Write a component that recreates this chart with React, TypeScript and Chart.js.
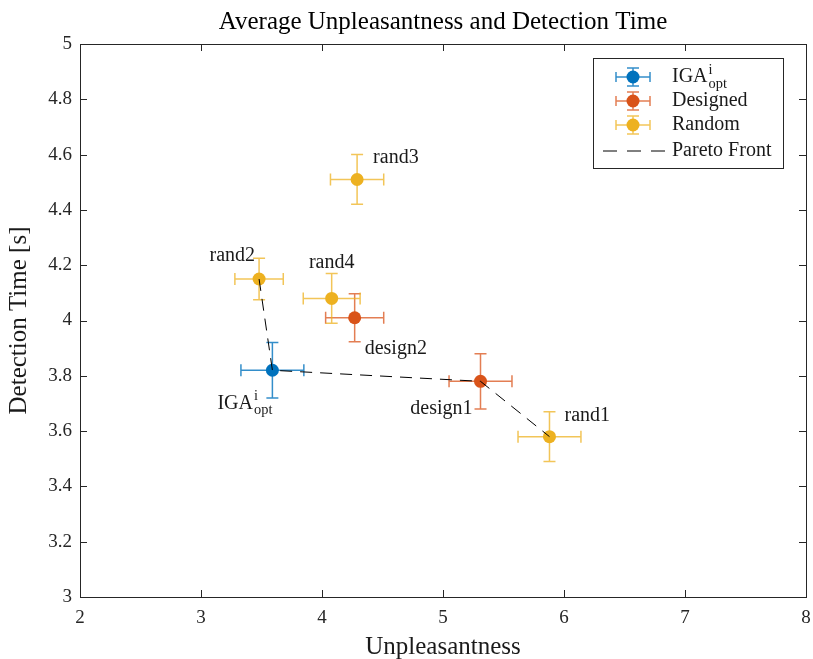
import React, { useEffect, useRef } from "react";
import { Chart, registerables } from "chart.js";

Chart.register(...registerables);

// ---- data ----
const seriesNames = ["IGA", "Designed", "Random"];

const igaLabels = ["IGA"];
const igaX = [3.59];
const igaY = [3.82];
const igaXErr = [0.26];
const igaYErr = [0.10];

const designLabels = ["design1", "design2"];
const designX = [5.31, 4.27];
const designY = [3.78, 4.01];
const designXErr = [0.26, 0.24];
const designYErr = [0.10, 0.087];

const randLabels = ["rand1", "rand2", "rand3", "rand4"];
const randX = [5.88, 3.48, 4.29, 4.08];
const randY = [3.58, 4.15, 4.51, 4.08];
const randXErr = [0.26, 0.2, 0.22, 0.235];
const randYErr = [0.09, 0.075, 0.09, 0.09];

const paretoX = [3.48, 3.59, 5.31, 5.88];
const paretoY = [4.15, 3.82, 3.78, 3.58];

const xTicks = [2, 3, 4, 5, 6, 7, 8];
const yTicks = [3, 3.2, 3.4, 3.6, 3.8, 4, 4.2, 4.4, 4.6, 4.8, 5];

const titleText = "Average Unpleasantness and Detection Time";
const xTitle = "Unpleasantness";
const yTitle = "Detection Time [s]";

// ---- styles ----
const FONT = "'Liberation Serif', 'DejaVu Serif', serif";
const AXIS_COLOR = "#262626";
const TEXT_COLOR = "#1a1a1a";
const BLUE = "#0072BD";
const ORANGE = "#D95319";
const YELLOW = "#EDB120";
const BLUE_E = "rgba(0,114,189,0.8)";
const ORANGE_E = "rgba(217,83,25,0.75)";
const YELLOW_E = "rgba(237,177,32,0.75)";
const DASH = [12, 8];
const LABEL_SIZE = 20;

const toPts = (xs: number[], ys: number[]) => xs.map((x, i) => ({ x, y: ys[i] }));

// label placement: [dx, dy, align] in pixels relative to marker
const labelPlacement: Record<string, [number, number, CanvasTextAlign]> = {
  rand1: [15, -21, "left"],
  rand2: [-4, -23, "right"],
  rand3: [16, -22, "left"],
  rand4: [0, -36, "center"],
  design1: [-8, 27, "right"],
  design2: [10, 31, "left"],
  IGA: [0, 33, "right"],
};

const errGroups = [
  { xs: igaX, ys: igaY, ex: igaXErr, ey: igaYErr, color: BLUE_E },
  { xs: designX, ys: designY, ex: designXErr, ey: designYErr, color: ORANGE_E },
  { xs: randX, ys: randY, ex: randXErr, ey: randYErr, color: YELLOW_E },
];

function drawIGA(ctx: CanvasRenderingContext2D, x: number, y: number, align: CanvasTextAlign, size: number) {
  // IGA^i_opt
  ctx.save();
  ctx.font = `${size}px ${FONT}`;
  const mainW = ctx.measureText("IGA").width;
  ctx.font = `${size * 0.72}px ${FONT}`;
  const supW = ctx.measureText("i").width;
  const subW = ctx.measureText("opt").width;
  const total = mainW + Math.max(supW, subW) + 1;
  let x0 = x;
  if (align === "right") x0 = x - total;
  else if (align === "center") x0 = x - total / 2;
  ctx.textAlign = "left";
  ctx.textBaseline = "middle";
  ctx.font = `${size}px ${FONT}`;
  ctx.fillText("IGA", x0, y);
  ctx.font = `${size * 0.72}px ${FONT}`;
  ctx.fillText("i", x0 + mainW + 1, y - size * 0.36);
  ctx.fillText("opt", x0 + mainW + 1, y + size * 0.36);
  ctx.restore();
}

const customPlugin = {
  id: "matlabLike",
  beforeDatasetsDraw(chart: any) {
    const { ctx, scales } = chart;
    const xs = scales.x;
    const ys = scales.y;
    ctx.save();
    ctx.lineWidth = 1.5;
    const cap = 6;
    errGroups.forEach((g) => {
      ctx.strokeStyle = g.color;
      g.xs.forEach((xv, i) => {
        const yv = g.ys[i];
        const px = xs.getPixelForValue(xv);
        const py = ys.getPixelForValue(yv);
        const pxl = xs.getPixelForValue(xv - g.ex[i]);
        const pxr = xs.getPixelForValue(xv + g.ex[i]);
        const pyt = ys.getPixelForValue(yv + g.ey[i]);
        const pyb = ys.getPixelForValue(yv - g.ey[i]);
        ctx.beginPath();
        ctx.moveTo(pxl, py);
        ctx.lineTo(pxr, py);
        ctx.moveTo(pxl, py - cap);
        ctx.lineTo(pxl, py + cap);
        ctx.moveTo(pxr, py - cap);
        ctx.lineTo(pxr, py + cap);
        ctx.moveTo(px, pyt);
        ctx.lineTo(px, pyb);
        ctx.moveTo(px - cap, pyt);
        ctx.lineTo(px + cap, pyt);
        ctx.moveTo(px - cap, pyb);
        ctx.lineTo(px + cap, pyb);
        ctx.stroke();
      });
    });
    ctx.restore();
  },
  afterDraw(chart: any) {
    const { ctx, scales, chartArea } = chart;
    const xs = scales.x;
    const ys = scales.y;
    const { left, right, top, bottom } = chartArea;
    ctx.save();
    // box
    ctx.strokeStyle = AXIS_COLOR;
    ctx.lineWidth = 1;
    ctx.strokeRect(Math.round(left) + 0.5, Math.round(top) + 0.5, Math.round(right - left), Math.round(bottom - top));
    // inward ticks
    const tl = 7;
    ctx.beginPath();
    xTicks.forEach((t) => {
      const px = Math.round(xs.getPixelForValue(t)) + 0.5;
      ctx.moveTo(px, bottom);
      ctx.lineTo(px, bottom - tl);
      ctx.moveTo(px, top);
      ctx.lineTo(px, top + tl);
    });
    yTicks.forEach((t) => {
      const py = Math.round(ys.getPixelForValue(t)) + 0.5;
      ctx.moveTo(left, py);
      ctx.lineTo(left + tl, py);
      ctx.moveTo(right, py);
      ctx.lineTo(right - tl, py);
    });
    ctx.stroke();

    // titles
    ctx.fillStyle = "#000";
    ctx.textAlign = "center";
    ctx.textBaseline = "middle";
    ctx.font = `25px ${FONT}`;
    ctx.fillText(titleText, (left + right) / 2, 22);
    ctx.fillStyle = TEXT_COLOR;
    ctx.font = `25px ${FONT}`;
    ctx.fillText(xTitle, (left + right) / 2, 647);
    ctx.save();
    ctx.translate(19, (top + bottom) / 2);
    ctx.rotate(-Math.PI / 2);
    ctx.fillText(yTitle, 0, 0);
    ctx.restore();

    // point labels
    ctx.fillStyle = TEXT_COLOR;
    const labelSets = [
      { names: igaLabels, xsv: igaX, ysv: igaY },
      { names: designLabels, xsv: designX, ysv: designY },
      { names: randLabels, xsv: randX, ysv: randY },
    ];
    labelSets.forEach((s) => {
      s.names.forEach((name, i) => {
        const px = xs.getPixelForValue(s.xsv[i]);
        const py = ys.getPixelForValue(s.ysv[i]);
        const [dx, dy, align] = labelPlacement[name];
        if (name === "IGA") {
          drawIGA(ctx, px + dx, py + dy, align, LABEL_SIZE);
        } else {
          ctx.font = `${LABEL_SIZE}px ${FONT}`;
          ctx.textAlign = align;
          ctx.textBaseline = "middle";
          ctx.fillText(name, px + dx, py + dy);
        }
      });
    });

    // legend
    const lx = right - 213;
    const ly = top + 14;
    const lw = 190;
    const lh = 110;
    ctx.fillStyle = "#ffffff";
    ctx.fillRect(lx, ly, lw, lh);
    ctx.strokeStyle = AXIS_COLOR;
    ctx.lineWidth = 1;
    ctx.strokeRect(Math.round(lx) + 0.5, Math.round(ly) + 0.5, lw, lh);
    const rows = [
      { name: seriesNames[0], color: BLUE, ecolor: BLUE_E },
      { name: seriesNames[1], color: ORANGE, ecolor: ORANGE_E },
      { name: seriesNames[2], color: YELLOW, ecolor: YELLOW_E },
    ];
    const symX = lx + 40;
    const textX = lx + 79;
    rows.forEach((r, i) => {
      const cy = ly + 19 + i * 24;
      ctx.strokeStyle = r.ecolor;
      ctx.lineWidth = 1.5;
      ctx.beginPath();
      ctx.moveTo(symX - 17, cy);
      ctx.lineTo(symX + 17, cy);
      ctx.moveTo(symX - 17, cy - 5);
      ctx.lineTo(symX - 17, cy + 5);
      ctx.moveTo(symX + 17, cy - 5);
      ctx.lineTo(symX + 17, cy + 5);
      ctx.moveTo(symX, cy - 9);
      ctx.lineTo(symX, cy + 9);
      ctx.moveTo(symX - 6, cy - 9);
      ctx.lineTo(symX + 6, cy - 9);
      ctx.moveTo(symX - 6, cy + 9);
      ctx.lineTo(symX + 6, cy + 9);
      ctx.stroke();
      ctx.fillStyle = r.color;
      ctx.beginPath();
      ctx.arc(symX, cy, 6.5, 0, Math.PI * 2);
      ctx.fill();
      ctx.fillStyle = TEXT_COLOR;
      if (i === 0) {
        drawIGA(ctx, textX, cy, "left", LABEL_SIZE);
      } else {
        ctx.font = `${LABEL_SIZE}px ${FONT}`;
        ctx.textAlign = "left";
        ctx.textBaseline = "middle";
        ctx.fillText(r.name, textX, cy);
      }
    });
    // pareto row
    const py4 = ly + 19 + 3 * 24 + 2;
    ctx.strokeStyle = "#000";
    ctx.lineWidth = 1;
    ctx.setLineDash([14, 10]);
    ctx.beginPath();
    ctx.moveTo(lx + 10, py4);
    ctx.lineTo(lx + 72, py4);
    ctx.stroke();
    ctx.setLineDash([]);
    ctx.fillStyle = TEXT_COLOR;
    ctx.font = `${LABEL_SIZE}px ${FONT}`;
    ctx.textAlign = "left";
    ctx.textBaseline = "middle";
    ctx.fillText("Pareto Front", textX, py4);
    ctx.restore();
  },
};

export default function App() {
  const ref = useRef<HTMLCanvasElement | null>(null);
  useEffect(() => {
    document.body.style.margin = "0";
    document.body.style.overflow = "hidden";
    const canvas = ref.current;
    if (!canvas) return;
    const chart = new Chart(canvas, {
      type: "scatter",
      data: {
        datasets: [
          {
            label: "Pareto Front",
            data: toPts(paretoX, paretoY),
            showLine: true,
            borderColor: "#000000",
            borderWidth: 1,
            borderDash: DASH,
            pointRadius: 0,
            fill: false,
            order: 0,
          },
          {
            label: seriesNames[0],
            data: toPts(igaX, igaY),
            backgroundColor: BLUE,
            borderColor: BLUE,
            pointRadius: 6.5,
            borderWidth: 0,
            order: 1,
          },
          {
            label: seriesNames[1],
            data: toPts(designX, designY),
            backgroundColor: ORANGE,
            borderColor: ORANGE,
            pointRadius: 6.5,
            borderWidth: 0,
            order: 1,
          },
          {
            label: seriesNames[2],
            data: toPts(randX, randY),
            backgroundColor: YELLOW,
            borderColor: YELLOW,
            pointRadius: 6.5,
            borderWidth: 0,
            order: 1,
          },
        ],
      },
      options: {
        animation: false,
        responsive: false,
        maintainAspectRatio: false,
        layout: { padding: { top: 44, right: 7, left: 0, bottom: 0 } },
        plugins: {
          legend: { display: false },
          tooltip: { enabled: false },
          title: { display: false },
        },
        scales: {
          x: {
            type: "linear",
            min: 2,
            max: 8,
            afterBuildTicks: (axis: any) => {
              axis.ticks = xTicks.map((v) => ({ value: v }));
            },
            afterFit: (axis: any) => {
              axis.height = 62;
              axis.paddingLeft = 0;
              axis.paddingRight = 0;
            },
            grid: { display: false, drawTicks: false },
            border: { display: false },
            ticks: {
              color: AXIS_COLOR,
              font: { family: FONT, size: 19 },
              padding: 10,
              callback: (v: any) => String(v),
            },
          },
          y: {
            type: "linear",
            min: 3,
            max: 5,
            afterBuildTicks: (axis: any) => {
              axis.ticks = yTicks.map((v) => ({ value: v }));
            },
            afterFit: (axis: any) => {
              axis.width = 80;
              axis.paddingTop = 0;
              axis.paddingBottom = 0;
            },
            grid: { display: false, drawTicks: false },
            border: { display: false },
            ticks: {
              color: AXIS_COLOR,
              font: { family: FONT, size: 19 },
              padding: 8,
              callback: (v: any) => String(Math.round(v * 10) / 10),
            },
          },
        },
      },
      plugins: [customPlugin],
    });
    return () => chart.destroy();
  }, []);
  return (
    <div style={{ width: 813, height: 659, background: "#fff" }}>
      <canvas ref={ref} width={813} height={659} style={{ display: "block" }} />
    </div>
  );
}
